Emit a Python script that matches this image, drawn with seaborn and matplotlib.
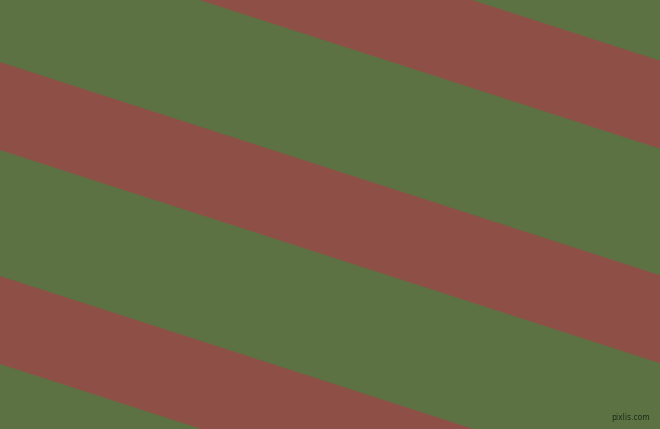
import matplotlib
matplotlib.use("Agg")
import matplotlib.pyplot as plt
import seaborn as sns
import numpy as np

# stripe data (pixel space, y downward)
slope = 0.323
red_top = [-152.5, 62.0, 276.0]     # intercept of upper edge of each red band
red_bottom = [-64.5, 150.0, 364.0]  # intercept of lower edge
x_edges = [0, 660]

green = "#5c7242"
red = "#8e5046"

sns.set_theme(style="white")
fig = plt.figure(figsize=(6.6, 4.29), dpi=100)
ax = fig.add_axes([0, 0, 1, 1])
ax.set_facecolor(green)
fig.patch.set_facecolor(green)

xs = np.array(x_edges, dtype=float)
for t, b in zip(red_top, red_bottom):
    ax.fill_between(xs, slope * xs + t, slope * xs + b, color=red, linewidth=0)

ax.set_xlim(0, 660)
ax.set_ylim(429, 0)
ax.axis("off")

ax.text(650, 418, "pixlis.com", fontsize=5.5, color="#1e2a18", ha="right", va="center",
        family="DejaVu Sans")

fig.savefig("out.png", dpi=100, facecolor=green)
